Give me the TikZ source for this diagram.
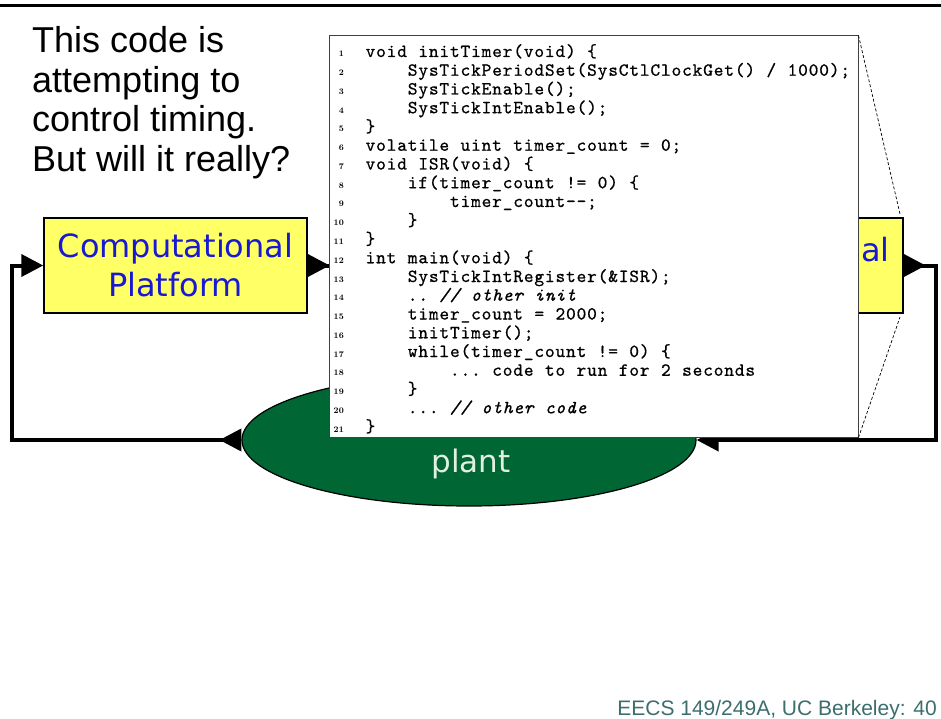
\documentclass[tikz,border=0pt]{standalone}
\usepackage{fontspec}
\usetikzlibrary{arrows.meta,shapes.geometric}

\newfontfamily\arialfont{Liberation Sans}
\newfontfamily\lucidafont{DejaVu Sans}
\newfontfamily\codefont{lmmono10-regular.otf}[
  FakeBold=0.7,
  ItalicFont=lmmono10-italic.otf,
  ItalicFeatures={FakeBold=0.7}]

\definecolor{boxyellow}{RGB}{255,255,102}
\definecolor{boxblue}{RGB}{25,25,210}
\definecolor{plantgreen}{RGB}{0,102,51}
\definecolor{planttext}{RGB}{225,240,225}
\definecolor{footteal}{RGB}{60,110,110}

% fixed-pitch code setting: every character gets a box of the same width;
% [ and ] stand for the braces { and }
\newlength\codepitch
\setlength\codepitch{10.55pt}
\ExplSyntaxOn
\NewDocumentCommand \codeln { m }
 {
  \str_map_inline:nn { #1 }
   {
    \hbox_to_wd:nn { \codepitch }
     {
      \hfil
      \str_case:nnF { ##1 }
       {
        { [ } { \{ }
        { ] } { \} }
       }
       { ##1 }
      \hfil
     }
   }
 }
\ExplSyntaxOff

\begin{document}
\begin{tikzpicture}[x=1pt,y=-1pt,
  lead/.style={anchor=base west, inner sep=0pt, font=\arialfont\fontsize{36}{43}\selectfont},
  block/.style={rectangle, draw=black, line width=1.5pt, fill=boxyellow,
    minimum width=263pt, minimum height=95pt, inner sep=0pt, align=center,
    text=boxblue, font=\lucidafont\fontsize{32}{39}\selectfont},
  boxlbl/.style={inner sep=0pt, text=boxblue, font=\lucidafont\fontsize{32}{39}\selectfont},
  plantshape/.style={ellipse, draw=black, line width=1.2pt, fill=plantgreen,
    minimum width=454pt, minimum height=132pt, inner sep=0pt},
  plantlbl/.style={anchor=base, inner sep=0pt, text=planttext,
    font=\lucidafont\fontsize{31}{36}\selectfont},
  flow/.style={line width=4pt,
    {Triangle[reversed,length=22pt,width=22pt]}-{Triangle[length=22pt,width=22pt]}},
  panel/.style={rectangle, draw=black!75, line width=1pt, fill=white,
    minimum width=529pt, minimum height=401pt, inner sep=0pt},
  zoomline/.style={line width=0.7pt, dash pattern=on 3pt off 2pt},
  lno/.style={anchor=base east, inner sep=0pt, font=\rmfamily\bfseries\fontsize{8.5}{9}\selectfont},
  codeline/.style={anchor=base west, inner sep=0pt, font=\codefont\fontsize{18.5}{19}\selectfont},
  foot/.style={anchor=base east, inner sep=0pt, text=footteal, font=\arialfont\fontsize{21}{25}\selectfont}
]
\useasboundingbox (0,0) rectangle (941,719);
\fill[white] (0,0) rectangle (941,719);

% title rule
\draw[line width=3pt] (0,5.5) -- (941,5.5);

% question text
\node[lead] (t1) at (32,53) {This code is};
\node[lead] (t2) at (32,92.5) {attempting to};
\node[lead] (t3) at (32,132) {control timing.};
\node[lead] (t4) at (32,171.5) {But will it really?};

% feedback loop
\node[block] (cp) at (175.5,265.5) {Computational\\Platform};
\node[block, minimum width=343pt] (rb) at (731.5,265.5) {};
\node[boxlbl, anchor=base east] (rblbl) at (890,261) {al};
\node[plantshape] (plant) at (469,440) {};
\node[plantlbl] (plantlbl) at (471,472) {plant};

\draw[flow] (plant.west) -| ([xshift=-31pt]cp.west) -- (cp.west);
\draw[flow] (cp.east) -- (rb.west);
\draw[flow] (rb.east) -- ++(32,0) |- (plant.east);

% code panel
\node[panel] (panel) at (593.5,236.5) {};
\coordinate (zt) at (900,214);
\coordinate (zb) at (900,317);
\draw[zoomline] (panel.north east) -- (zt);
\draw[zoomline] (panel.south east) -- (zb);

\foreach \i in {1,...,21}
  \node[lno] (n\i) at (344,57+18.75*\i-18.75) {\i};

\node[codeline] (c1)  at (365,57+18.75*0)  {\codeln{void initTimer(void) [}};
\node[codeline] (c2)  at (407.2,57+18.75*1)  {\codeln{SysTickPeriodSet(SysCtlClockGet() / 1000);}};
\node[codeline] (c3)  at (407.2,57+18.75*2)  {\codeln{SysTickEnable();}};
\node[codeline] (c4)  at (407.2,57+18.75*3)  {\codeln{SysTickIntEnable();}};
\node[codeline] (c5)  at (365,57+18.75*4)  {\codeln{]}};
\node[codeline] (c6)  at (365,57+18.75*5)  {\codeln{volatile uint timer_count = 0;}};
\node[codeline] (c7)  at (365,57+18.75*6)  {\codeln{void ISR(void) [}};
\node[codeline] (c8)  at (407.2,57+18.75*7)  {\codeln{if(timer_count != 0) [}};
\node[codeline] (c9)  at (449.4,57+18.75*8)  {\codeln{timer_count--;}};
\node[codeline] (c10) at (407.2,57+18.75*9)  {\codeln{]}};
\node[codeline] (c11) at (365,57+18.75*10) {\codeln{]}};
\node[codeline] (c12) at (365,57+18.75*11) {\codeln{int main(void) [}};
\node[codeline] (c13) at (407.2,57+18.75*12) {\codeln{SysTickIntRegister(&ISR);}};
\node[codeline] (c14) at (407.2,57+18.75*13) {\codeln{.. }{\itshape\codeln{// other init}}};
\node[codeline] (c15) at (407.2,57+18.75*14) {\codeln{timer_count = 2000;}};
\node[codeline] (c16) at (407.2,57+18.75*15) {\codeln{initTimer();}};
\node[codeline] (c17) at (407.2,57+18.75*16) {\codeln{while(timer_count != 0) [}};
\node[codeline] (c18) at (449.4,57+18.75*17) {\codeln{... code to run for 2 seconds}};
\node[codeline] (c19) at (407.2,57+18.75*18) {\codeln{]}};
\node[codeline] (c20) at (407.2,57+18.75*19) {\codeln{... }{\itshape\codeln{// other code}}};
\node[codeline] (c21) at (365,57+18.75*20) {\codeln{]}};

% footer
\node[foot] (foot) at (937,715) {EECS 149/249A, UC Berkeley: 40};
\end{tikzpicture}
\end{document}
